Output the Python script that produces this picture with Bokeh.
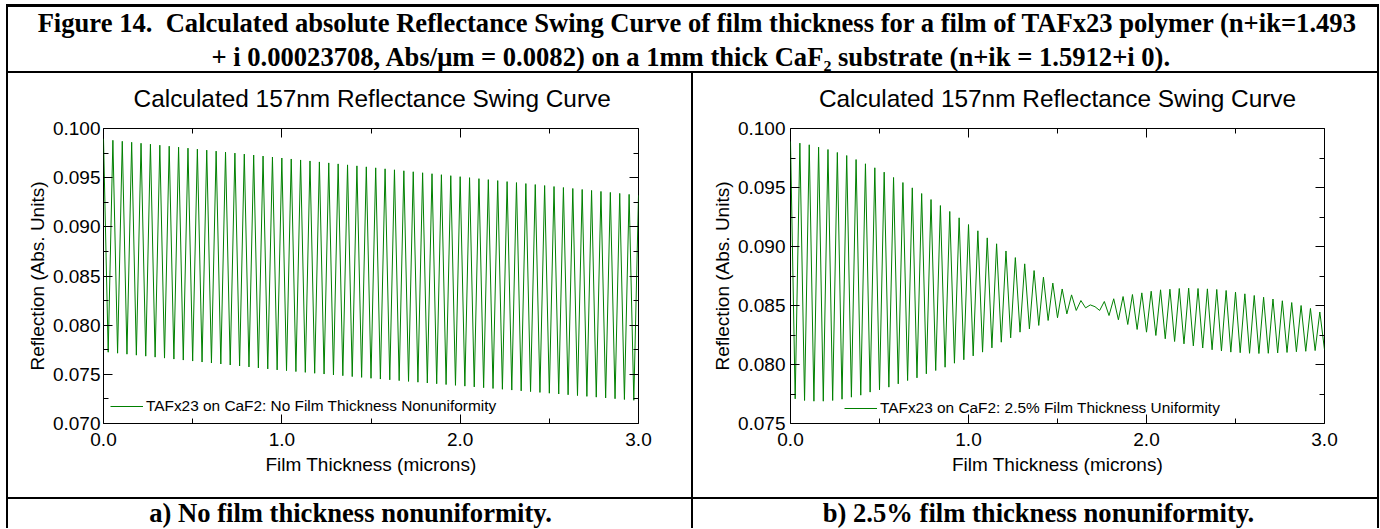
import numpy as np
from bokeh.plotting import figure
from bokeh.models import (Range1d, FixedTicker, LinearAxis, PrintfTickFormatter,
                          CustomJSTickFormatter, Legend, LegendItem, Label, Div, Spacer)
from bokeh.layouts import row, column
from bokeh.embed import file_html
from bokeh.resources import INLINE

# ---------------- data ----------------
x_ticks = [0.0, 1.0, 2.0, 3.0]
x_minor_ticks = [0.5, 1.5, 2.5]
y_ticks_a = [0.070, 0.075, 0.080, 0.085, 0.090, 0.095, 0.100]
y_minor_a = [0.0725, 0.0775, 0.0825, 0.0875, 0.0925, 0.0975]
y_ticks_b = [0.075, 0.080, 0.085, 0.090, 0.095, 0.100]
y_minor_b = [0.0775, 0.0825, 0.0875, 0.0925, 0.0975]

# thickness step between successive extrema (half a swing period), microns
half_period_um = 3.0 / 114

# (a) no nonuniformity: maxima at k*P, minima at (k+0.5)*P
a_peaks = [0.09895, 0.09880, 0.09870, 0.09860, 0.09850, 0.09840, 0.09830, 0.09820,
           0.09810, 0.09800, 0.09790, 0.09780, 0.09770, 0.09760, 0.09750, 0.09740,
           0.09730, 0.09720, 0.09710, 0.09700, 0.09690, 0.09680, 0.09670, 0.09660,
           0.09650, 0.09640, 0.09630, 0.09620, 0.09610, 0.09600, 0.09590, 0.09580,
           0.09570, 0.09560, 0.09550, 0.09540, 0.09530, 0.09520, 0.09510, 0.09500,
           0.09490, 0.09480, 0.09470, 0.09460, 0.09450, 0.09440, 0.09430, 0.09420,
           0.09410, 0.09400, 0.09390, 0.09380, 0.09370, 0.09360, 0.09350, 0.09340,
           0.09330, 0.09320]
a_troughs = [0.07725, 0.07715, 0.07705, 0.07695, 0.07685, 0.07675, 0.07665, 0.07655,
             0.07645, 0.07635, 0.07625, 0.07615, 0.07605, 0.07595, 0.07585, 0.07575,
             0.07565, 0.07555, 0.07545, 0.07537, 0.07528, 0.07520, 0.07511, 0.07503,
             0.07494, 0.07486, 0.07477, 0.07469, 0.07460, 0.07452, 0.07444, 0.07436,
             0.07428, 0.07420, 0.07412, 0.07404, 0.07396, 0.07388, 0.07380, 0.07372,
             0.07364, 0.07356, 0.07348, 0.07340, 0.07332, 0.07324, 0.07316, 0.07308,
             0.07300, 0.07292, 0.07284, 0.07276, 0.07268, 0.07260, 0.07252, 0.07244,
             0.07236]

# (b) 2.5% nonuniformity: values at k*P and at (k+0.5)*P
b_at_k = [0.09890, 0.09876, 0.09862, 0.09842, 0.09822, 0.09797, 0.09771, 0.09737,
          0.09701, 0.09667, 0.09630, 0.09585, 0.09542, 0.09497, 0.09449, 0.09398,
          0.09347, 0.09297, 0.09243, 0.09186, 0.09133, 0.09073, 0.09023, 0.08962,
          0.08906, 0.08853, 0.08796, 0.08740, 0.08690, 0.08640, 0.08590, 0.08542,
          0.08505, 0.08458, 0.08415, 0.08379, 0.08339, 0.08297, 0.08274, 0.08246,
          0.08218, 0.08195, 0.08175, 0.08158, 0.08140, 0.08125, 0.08115, 0.08105,
          0.08100, 0.08095, 0.08093, 0.08095, 0.08098, 0.08102, 0.08108, 0.08112,
          0.08118, 0.08125]
b_at_k_half = [0.07709, 0.07695, 0.07689, 0.07689, 0.07695, 0.07706, 0.07723, 0.07740,
               0.07766, 0.07785, 0.07808, 0.07836, 0.07864, 0.07887, 0.07921, 0.07949,
               0.07977, 0.08011, 0.08040, 0.08073, 0.08105, 0.08141, 0.08189, 0.08226,
               0.08274, 0.08302, 0.08331, 0.08373, 0.08396, 0.08429, 0.08458, 0.08480,
               0.08490, 0.08534, 0.08557, 0.08576, 0.08593, 0.08607, 0.08621, 0.08633,
               0.08638, 0.08644, 0.08647, 0.08644, 0.08641, 0.08636, 0.08627, 0.08613,
               0.08599, 0.08585, 0.08570, 0.08555, 0.08540, 0.08525, 0.08500, 0.08475,
               0.08445]

fig_title_1 = "Figure 14.\u00a0 Calculated absolute Reflectance Swing Curve of film thickness for a film of TAFx23 polymer (n+ik=1.493"
fig_title_2 = "+ i 0.00023708, Abs/\u03bcm = 0.0082) on a 1mm thick CaF\u2082 substrate (n+ik = 1.5912+i 0)."
plot_title = "Calculated 157nm Reflectance Swing Curve"
x_label = "Film Thickness (microns)"
y_label = "Reflection (Abs. Units)"
legend_a = "TAFx23 on CaF2: No Film Thickness Nonuniformity"
legend_b = "TAFx23 on CaF2: 2.5% Film Thickness Uniformity"
caption_a = "a) No film thickness nonuniformity."
caption_b = "b) 2.5% film thickness nonuniformity."

SANS = "Liberation Sans"
SERIF = "Liberation Serif"
GREEN = "#008000"

PLOT_H = 424        # whole plot cell
STRIP_H = 40        # part of the cell holding the plot title
FIG_H = PLOT_H - STRIP_H


def interleave(even, odd):
    out = []
    for i, v in enumerate(even):
        out.append(v)
        if i < len(odd):
            out.append(odd[i])
    return out


def series(even, odd):
    vals = interleave(even, odd)
    xs = np.arange(len(vals)) * half_period_um
    return xs, vals


def bar(w, h):
    return Div(width=w, height=h, margin=0, styles={"background-color": "black"})


def style_axis(ax, show_labels):
    ax.axis_line_color = None
    ax.major_tick_line_color = "black"
    ax.minor_tick_line_color = "black"
    ax.major_tick_in = 9
    ax.major_tick_out = 0
    ax.minor_tick_in = 5
    ax.minor_tick_out = 0
    ax.major_label_text_font = SANS
    ax.major_label_text_color = "black"
    ax.axis_label_text_font = SANS
    ax.axis_label_text_font_style = "normal"
    ax.axis_label_text_color = "black"
    ax.axis_label_text_font_size = "19px"
    if show_labels:
        ax.major_label_text_font_size = "19px"
    else:
        ax.major_label_text_font_size = "1px"
        ax.major_label_standoff = 0
        ax.formatter = CustomJSTickFormatter(code="return ''")


def make_plot(width, y_lo, y_hi, y_ticks, y_minor, xs, ys, legend_text,
              left, right, legend_loc, y_standoff, ylab_standoff):
    p = figure(width=width, height=FIG_H, output_backend="svg", toolbar_location=None,
               title=None,
               x_range=Range1d(0, 3), y_range=Range1d(y_lo, y_hi),
               x_axis_location=None, y_axis_location=None,
               min_border_left=left, min_border_right=right,
               min_border_top=15, min_border_bottom=74)
    p.grid.visible = False
    p.outline_line_color = "black"
    p.outline_line_width = 1
    p.background_fill_color = "white"
    p.border_fill_color = "white"

    xt = FixedTicker(ticks=x_ticks, minor_ticks=x_minor_ticks)
    yt = FixedTicker(ticks=y_ticks, minor_ticks=y_minor)

    bx = LinearAxis(ticker=xt, formatter=PrintfTickFormatter(format="%.1f"), axis_label=x_label)
    style_axis(bx, True)
    bx.major_label_standoff = 9
    bx.axis_label_standoff = 5
    p.add_layout(bx, "below")

    tx = LinearAxis(ticker=xt)
    style_axis(tx, False)
    p.add_layout(tx, "above")

    ly = LinearAxis(ticker=yt, formatter=PrintfTickFormatter(format="%.3f"), axis_label=y_label)
    style_axis(ly, True)
    ly.major_label_standoff = y_standoff
    ly.axis_label_standoff = ylab_standoff
    p.add_layout(ly, "left")

    ry = LinearAxis(ticker=yt)
    style_axis(ry, False)
    p.add_layout(ry, "right")

    r = p.line(xs, ys, line_color=GREEN, line_width=1)
    leg = Legend(items=[LegendItem(label=legend_text, renderers=[r])], location=legend_loc)
    leg.border_line_color = None
    leg.background_fill_alpha = 0
    leg.padding = 0
    leg.margin = 0
    leg.spacing = 0
    leg.glyph_width = 33
    leg.glyph_height = 16
    leg.label_height = 16
    leg.label_standoff = 3
    leg.label_text_font = SANS
    leg.label_text_font_size = "15.4px"
    leg.label_text_color = "black"
    p.add_layout(leg)
    return p


def text_panel(width, height, labels, font=SERIF, style="bold", size="26.6px"):
    f = figure(width=width, height=height, output_backend="svg", toolbar_location=None,
               title=None,
               x_range=Range1d(0, width), y_range=Range1d(0, height),
               x_axis_location=None, y_axis_location=None, min_border=0)
    f.outline_line_color = None
    f.grid.visible = False
    for (x, y, t) in labels:
        f.add_layout(Label(x=x, y=y, text=t, text_align="center", text_baseline="alphabetic",
                           text_font=font, text_font_style=style, text_font_size=size,
                           text_color="black"))
    return f


xa, ya = series(a_peaks, a_troughs)
xb, yb = series(b_at_k, b_at_k_half)

CELL_A = 683
CELL_B = 684
TITLE_H = 64
CAP_H = 29

p1 = make_plot(CELL_A, 0.070, 0.100, y_ticks_a, y_minor_a, xa, ya, legend_a,
               95, 53, (7, 8), 3, 2)
p2 = make_plot(CELL_B, 0.075, 0.100, y_ticks_b, y_minor_b, xb, yb, legend_b,
               97, 53, (54, 6), 5, 2)
s1 = text_panel(CELL_A, STRIP_H, [(343, 15.5, plot_title)], SANS, "normal", "24.4px")
s2 = text_panel(CELL_B, STRIP_H, [(342, 15.5, plot_title)], SANS, "normal", "24.4px")

TITLE_W = CELL_A + 2 + CELL_B
title_fig = text_panel(TITLE_W, TITLE_H, [(689, 49, fig_title_1), (683, 14.5, fig_title_2)])
cap1 = text_panel(CELL_A, CAP_H, [(342, 15.5, caption_a)])
cap2 = text_panel(CELL_B, CAP_H, [(345, 15.5, caption_b)])

FULL_W = TITLE_W + 4

table = column(
    Spacer(width=FULL_W, height=4),
    bar(FULL_W, 3),
    row(bar(2, TITLE_H), title_fig, bar(2, TITLE_H)),
    bar(FULL_W, 2),
    row(bar(2, PLOT_H), column(s1, p1), bar(2, PLOT_H), column(s2, p2), bar(2, PLOT_H)),
    bar(FULL_W, 2),
    row(bar(2, CAP_H), cap1, bar(2, CAP_H), cap2, bar(2, CAP_H)),
)
layout = row(Spacer(width=6, height=528), table)

open("out.html", "w").write(file_html(layout, INLINE))
